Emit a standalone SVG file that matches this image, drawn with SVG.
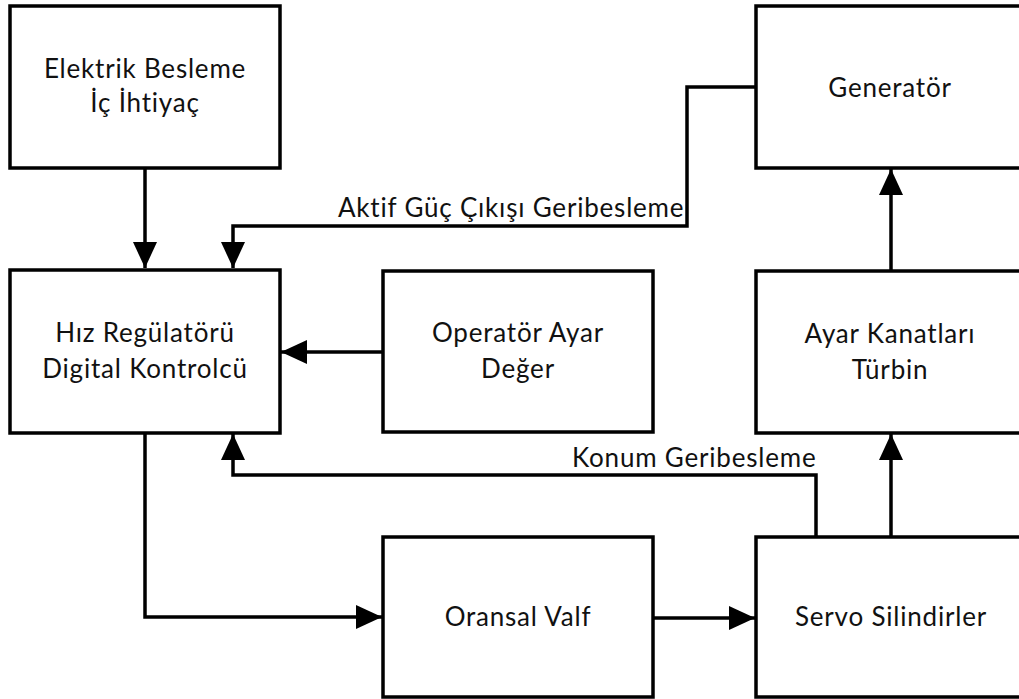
<svg xmlns="http://www.w3.org/2000/svg" width="1019" height="699" viewBox="0 0 1019 699">
  <style>
    .box { fill: #ffffff; stroke: #000000; stroke-width: 3.5; }
    .lbl, .edge { font-family: Lato, "Open Sans", "Liberation Sans", sans-serif; font-size: 26px; letter-spacing: 0.8px; fill: #111111; font-variant-ligatures: none; font-feature-settings: "liga" 0, "clig" 0; }
    .lbl { text-anchor: middle; }
    .wire { fill: none; stroke: #000000; stroke-width: 3.5; stroke-linejoin: miter; }
  </style>
  <defs>
    <marker id="arrow" viewBox="0 0 26 24" refX="26" refY="12" markerWidth="26" markerHeight="24" markerUnits="userSpaceOnUse" orient="auto">
      <path d="M0,0 L26,12 L0,24 Z" fill="#000000"/>
    </marker>
  </defs>
  <rect width="1019" height="699" fill="#ffffff"/>

  <g id="connectors">
    <!-- supply into controller -->
    <path class="wire" d="M145,168 V268" marker-end="url(#arrow)"/>
    <!-- active power feedback from generator -->
    <path class="wire" d="M756,87 H687 V226 H233 V268" marker-end="url(#arrow)"/>
    <!-- operator setpoint -->
    <path class="wire" d="M383,352 H281" marker-end="url(#arrow)"/>
    <!-- controller output to valve -->
    <path class="wire" d="M145,433 V617 H382" marker-end="url(#arrow)"/>
    <!-- valve to servo -->
    <path class="wire" d="M653,618 H755" marker-end="url(#arrow)"/>
    <!-- position feedback -->
    <path class="wire" d="M816,537 V475 H233 V434" marker-end="url(#arrow)"/>
    <!-- servo to turbine -->
    <path class="wire" d="M891,537 V434" marker-end="url(#arrow)"/>
    <!-- turbine to generator -->
    <path class="wire" d="M891,271 V169" marker-end="url(#arrow)"/>
    <text class="edge" x="338" y="217">Aktif Güç Çıkışı Geribesleme</text>
    <text class="edge" x="572" y="467">Konum Geribesleme</text>
  </g>

  <g id="node-supply">
    <rect class="box" x="10" y="6" width="270" height="162"/>
    <text class="lbl" x="145" y="78">Elektrik Besleme</text>
    <text class="lbl" x="145" y="112">İç İhtiyaç</text>
  </g>
  <g id="node-generator">
    <rect class="box" x="756" y="6" width="272" height="162"/>
    <text class="lbl" x="890" y="97">Generatör</text>
  </g>
  <g id="node-controller">
    <rect class="box" x="10" y="270" width="270" height="163"/>
    <text class="lbl" x="145" y="342">Hız Regülatörü</text>
    <text class="lbl" x="145" y="378">Digital Kontrolcü</text>
  </g>
  <g id="node-setpoint">
    <rect class="box" x="383" y="271" width="270" height="161"/>
    <text class="lbl" x="518" y="342">Operatör Ayar</text>
    <text class="lbl" x="518" y="378">Değer</text>
  </g>
  <g id="node-turbine">
    <rect class="box" x="756" y="271" width="272" height="162"/>
    <text class="lbl" x="890" y="343">Ayar Kanatları</text>
    <text class="lbl" x="890" y="379">Türbin</text>
  </g>
  <g id="node-valve">
    <rect class="box" x="383" y="537" width="270" height="160"/>
    <text class="lbl" x="518" y="626">Oransal Valf</text>
  </g>
  <g id="node-servo">
    <rect class="box" x="756" y="537" width="272" height="160"/>
    <text class="lbl" x="891" y="626">Servo Silindirler</text>
  </g>
</svg>
